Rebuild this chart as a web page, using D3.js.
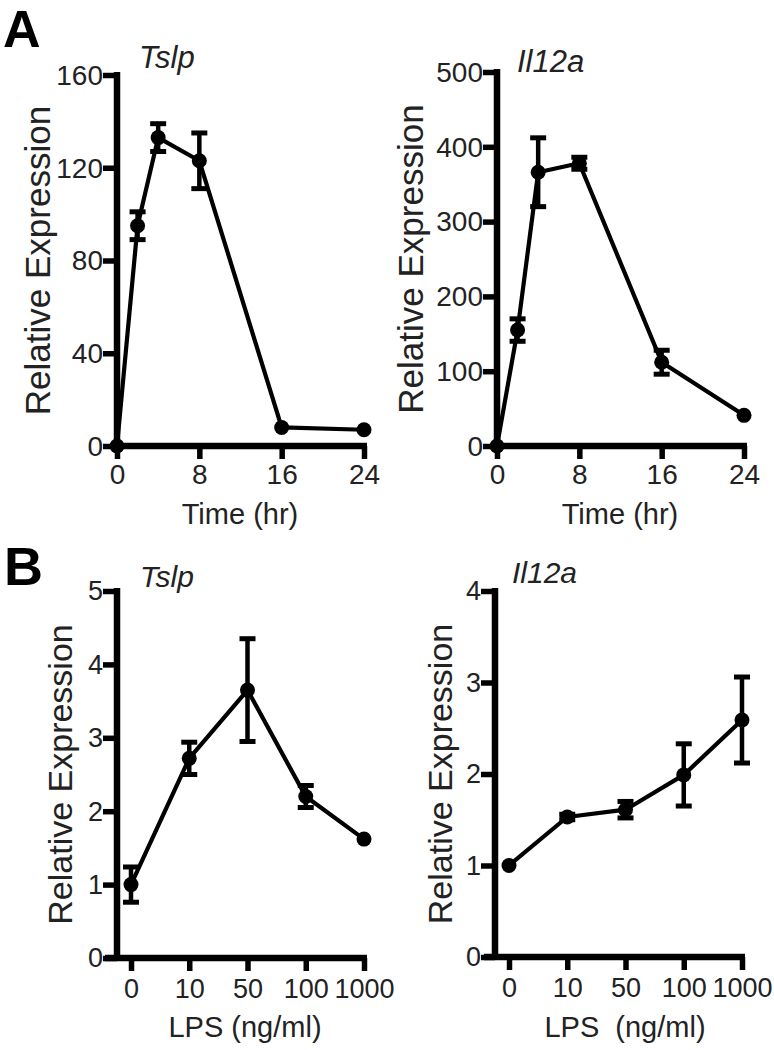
<!DOCTYPE html>
<html>
<head>
<meta charset="utf-8">
<script src="https://cdn.jsdelivr.net/npm/d3@7"></script>
<style>
  html, body { margin: 0; padding: 0; background: #fff; }
  svg { display: block; }
  text { font-family: Arial, "Liberation Sans", Helvetica, sans-serif; fill: #222; }
</style>
</head>
<body>
<svg id="chart" width="774" height="1050"></svg>
<script>
// ---- Data ----
const timeHours = [0, 2, 4, 8, 16, 24];
const timeTicks = [0, 8, 16, 24];
const tslpTime = [0, 95, 133, 123, 8, 7];
const tslpTimeErr = [0, 6, 6, 12, 0, 0];
const il12aTime = [0, 155, 366, 378, 112, 41];
const il12aTimeErr = [0, 15, 46, 8, 16, 0];
const tslpTimeTicks = [0, 40, 80, 120, 160];
const il12aTimeTicks = [0, 100, 200, 300, 400, 500];

const lpsDoses = ["0", "10", "50", "100", "1000"];
const tslpLps = [1.0, 2.72, 3.65, 2.2, 1.62];
const tslpLpsErr = [0.24, 0.22, 0.7, 0.15, 0];
const il12aLps = [1.0, 1.53, 1.61, 1.99, 2.59];
const il12aLpsErr = [0, 0.03, 0.09, 0.34, 0.47];
const tslpLpsTicks = [0, 1, 2, 3, 4, 5];
const il12aLpsTicks = [0, 1, 2, 3, 4];

const svg = d3.select("#chart");

function panel(cfg) {
  const g = svg.append("g");
  const x = cfg.x, y = cfg.y;
  const x0 = cfg.axisX, y0 = y(0);
  const yTop = y(cfg.yTicks[cfg.yTicks.length - 1]);

  // y axis ticks + labels
  const ya = g.append("g").attr("transform", `translate(${x0},0)`)
    .call(d3.axisLeft(y).tickValues(cfg.yTicks).tickFormat(d3.format("d"))
      .tickSize(14).tickSizeOuter(0).tickPadding(0));
  ya.select(".domain").remove();
  ya.selectAll("line").attr("stroke", "#000").attr("stroke-width", 5.5);
  ya.selectAll("text").style("font-size", cfg.yFont + "px").attr("fill", "#222").attr("dy", "0.33em");

  // x axis ticks + labels
  const xa = g.append("g").attr("transform", `translate(0,${y0})`)
    .call(d3.axisBottom(x).tickValues(cfg.xTicks).tickSize(13).tickSizeOuter(0).tickPadding(cfg.xPad));
  xa.select(".domain").remove();
  xa.selectAll("line").attr("stroke", "#000").attr("stroke-width", 5.5);
  xa.selectAll("text").style("font-size", cfg.xFont + "px").attr("fill", "#222");

  // axis lines
  g.append("line").attr("x1", x0).attr("x2", x0).attr("y1", yTop - 3).attr("y2", y0 + 3)
    .attr("stroke", "#000").attr("stroke-width", 6.5);
  g.append("line").attr("x1", cfg.xLineStart).attr("x2", cfg.xLineEnd).attr("y1", y0).attr("y2", y0)
    .attr("stroke", "#000").attr("stroke-width", 6.5);

  const pts = cfg.xs.map((d, i) => ({ x: d, v: cfg.vals[i], e: cfg.errs[i] }));

  // line
  g.append("path").datum(pts)
    .attr("d", d3.line().x(d => x(d.x)).y(d => y(d.v)))
    .attr("fill", "none").attr("stroke", "#000").attr("stroke-width", 4.2).attr("stroke-linejoin", "round");

  // error bars
  const eb = g.selectAll(".eb").data(pts.filter(d => d.e > 0)).enter().append("g");
  eb.append("line").attr("x1", d => x(d.x)).attr("x2", d => x(d.x))
    .attr("y1", d => y(d.v - d.e)).attr("y2", d => y(d.v + d.e))
    .attr("stroke", "#000").attr("stroke-width", 4.5);
  [1, -1].forEach(s => {
    eb.append("line").attr("x1", d => x(d.x) - 8).attr("x2", d => x(d.x) + 8)
      .attr("y1", d => y(d.v + s * d.e)).attr("y2", d => y(d.v + s * d.e))
      .attr("stroke", "#000").attr("stroke-width", 5);
  });

  // dots
  g.selectAll(".dot").data(pts).enter().append("circle")
    .attr("cx", d => x(d.x)).attr("cy", d => y(d.v)).attr("r", 7.5).attr("fill", "#000");

  // title
  g.append("text").attr("x", cfg.titleX).attr("y", cfg.titleY)
    .style("font-size", cfg.titleFont + "px").style("font-style", "italic").text(cfg.title);

  // y label
  g.append("text").attr("transform", `translate(${cfg.yLabelX},${(yTop + y0) / 2}) rotate(-90)`)
    .attr("text-anchor", "middle").style("font-size", cfg.yLabelFont + "px").text("Relative Expression");

  // x label
  g.append("text").attr("x", cfg.xLabelX).attr("y", cfg.xLabelY).attr("text-anchor", "middle")
    .style("font-size", cfg.xLabelFont + "px").style("white-space", "pre").text(cfg.xLabel);
}

// Panel A left
panel({
  x: d3.scaleLinear().domain([0, 24]).range([117, 364]),
  y: d3.scaleLinear().domain([0, 160]).range([446, 75]),
  axisX: 117, xTicks: timeTicks, yTicks: tslpTimeTicks,
  xs: timeHours, vals: tslpTime, errs: tslpTimeErr,
  xLineStart: 114, xLineEnd: 367,
  yFont: 28, xFont: 28, xPad: 5,
  title: "Tslp", titleX: 139, titleY: 68, titleFont: 31,
  yLabelX: 50, yLabelFont: 35,
  xLabel: "Time (hr)", xLabelX: 240, xLabelY: 524, xLabelFont: 29
});

// Panel A right
panel({
  x: d3.scaleLinear().domain([0, 24]).range([497, 744]),
  y: d3.scaleLinear().domain([0, 500]).range([446, 72]),
  axisX: 497, xTicks: timeTicks, yTicks: il12aTimeTicks,
  xs: timeHours, vals: il12aTime, errs: il12aTimeErr,
  xLineStart: 494, xLineEnd: 747,
  yFont: 28, xFont: 28, xPad: 5,
  title: "Il12a", titleX: 517, titleY: 72, titleFont: 31,
  yLabelX: 423, yLabelFont: 35,
  xLabel: "Time (hr)", xLabelX: 620, xLabelY: 524, xLabelFont: 29
});

// Panel B left
panel({
  x: d3.scalePoint().domain(lpsDoses).range([131, 364]),
  y: d3.scaleLinear().domain([0, 5]).range([958, 591]),
  axisX: 117, xTicks: lpsDoses, yTicks: tslpLpsTicks,
  xs: lpsDoses, vals: tslpLps, errs: tslpLpsErr,
  xLineStart: 105, xLineEnd: 367,
  yFont: 27, xFont: 27, xPad: 8,
  title: "Tslp", titleX: 140, titleY: 587, titleFont: 30,
  yLabelX: 72, yLabelFont: 34,
  xLabel: "LPS (ng/ml)", xLabelX: 245, xLabelY: 1037, xLabelFont: 29
});

// Panel B right
panel({
  x: d3.scalePoint().domain(lpsDoses).range([509, 742]),
  y: d3.scaleLinear().domain([0, 4]).range([957, 591]),
  axisX: 495, xTicks: lpsDoses, yTicks: il12aLpsTicks,
  xs: lpsDoses, vals: il12aLps, errs: il12aLpsErr,
  xLineStart: 484, xLineEnd: 745,
  yFont: 27, xFont: 27, xPad: 8,
  title: "Il12a", titleX: 512, titleY: 583, titleFont: 30,
  yLabelX: 452, yLabelFont: 34,
  xLabel: "LPS  (ng/ml)", xLabelX: 625, xLabelY: 1037, xLabelFont: 29
});

// Panel letters
svg.append("text").attr("x", 3).attr("y", 47).style("font-size", "52px").style("font-weight", "bold").style("fill", "#000").text("A");
svg.append("text").attr("x", 4).attr("y", 585).style("font-size", "54px").style("font-weight", "bold").style("fill", "#000").text("B");
</script>
</body>
</html>
